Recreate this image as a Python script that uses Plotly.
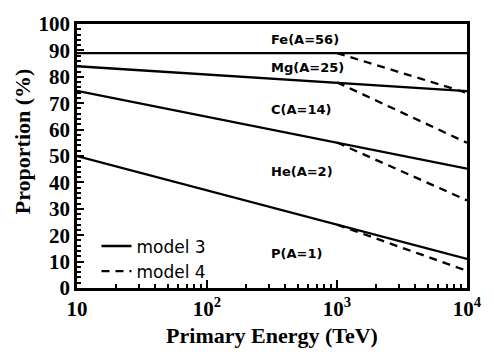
import math
import plotly.graph_objects as go

# ---- data ----
x_model3 = [10, 10000]
fe_mg_3 = [89.0, 89.0]
mg_c_3 = [84.0, 74.6]
c_he_3 = [74.7, 45.2]
he_p_3 = [50.0, 11.0]

x_model4 = [1000, 10000]
fe_mg_4 = [89.0, 73.9]
mg_c_4 = [77.9, 55.0]
c_he_4 = [55.1, 33.2]
he_p_4 = [24.0, 6.5]

labels = ["Fe(A=56)", "Mg(A=25)", "C(A=14)", "He(A=2)", "P(A=1)"]
label_x = [300, 300, 300, 300, 300]
label_y = [94.3, 83.7, 67.7, 44.0, 13.2]

tick_vals = [10, 100, 1000, 10000]
tick_text = ["10", "10<sup>2</sup>", "10<sup>3</sup>", "10<sup>4</sup>"]

serif = "Liberation Serif"
sans = "DejaVu Sans"
LW = 2.3
DASH = "8px,6px"

fig = go.Figure()
for i, ys in enumerate([fe_mg_3, mg_c_3, c_he_3, he_p_3]):
    fig.add_trace(go.Scatter(x=x_model3, y=ys, mode="lines",
                             line=dict(color="black", width=LW),
                             name="model 3", legendgroup="m3",
                             showlegend=(i == 0)))
for i, ys in enumerate([fe_mg_4, mg_c_4, c_he_4, he_p_4]):
    fig.add_trace(go.Scatter(x=x_model4, y=ys, mode="lines",
                             line=dict(color="black", width=LW, dash=DASH),
                             name="model 4", legendgroup="m4",
                             showlegend=(i == 0)))

for t, xx, yy in zip(labels, label_x, label_y):
    fig.add_annotation(x=math.log10(xx), y=yy, xref="x", yref="y", text=t,
                       showarrow=False, xanchor="left", yanchor="middle",
                       font=dict(family=sans, size=13, color="black", weight="bold"))

fig.add_annotation(x=-0.141, y=0.556, xref="paper", yref="paper",
                   text="Proportion (%)", textangle=-90, showarrow=False,
                   xanchor="center", yanchor="middle",
                   font=dict(family=serif, size=22, color="black", weight="bold"))

fig.update_xaxes(type="log", range=[1, 4], tickvals=tick_vals, ticktext=tick_text,
                 ticks="inside", ticklen=8, tickwidth=2, tickcolor="black",
                 showline=True, linewidth=2.5, linecolor="black", mirror=True,
                 showgrid=False, zeroline=False,
                 minor=dict(ticks="inside", ticklen=4, tickwidth=1.5, tickcolor="black",
                            tickvals=[v * k for v in (10, 100, 1000) for k in range(2, 10)],
                            showgrid=False),
                 tickfont=dict(family=serif, size=21, color="black", weight="bold"),
                 title=dict(text="Primary Energy (TeV)", standoff=8,
                            font=dict(family=serif, size=22, color="black", weight="bold")))
fig.update_yaxes(range=[0, 100], dtick=10, tick0=0,
                 ticks="inside", ticklen=7, tickwidth=2, tickcolor="black",
                 showline=True, linewidth=2.5, linecolor="black", mirror=True,
                 showgrid=False, zeroline=False,
                 minor=dict(ticks="inside", ticklen=4, tickwidth=1.5, tickcolor="black",
                            dtick=2, showgrid=False),
                 tickfont=dict(family=serif, size=21, color="black", weight="bold"))

fig.update_layout(
    width=494, height=356,
    margin=dict(l=77, r=14, t=18, b=63),
    paper_bgcolor="white", plot_bgcolor="white",
    showlegend=True,
    legend=dict(x=0.05, y=0.11, xanchor="left", yanchor="middle",
                bgcolor="rgba(0,0,0,0)", borderwidth=0,
                font=dict(family=sans, size=17, color="black"),
                itemwidth=30, tracegroupgap=0),
)

fig.write_html("out.html")
